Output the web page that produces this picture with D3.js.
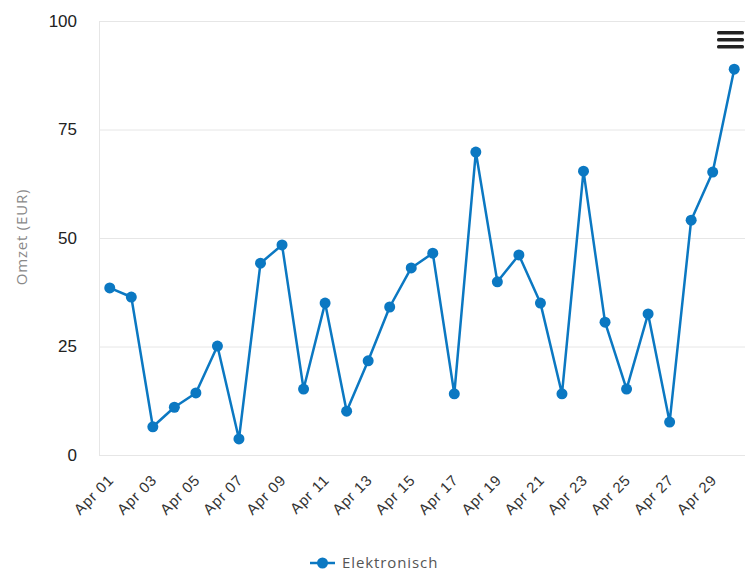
<!DOCTYPE html>
<html>
<head>
<meta charset="utf-8">
<script src="https://cdn.jsdelivr.net/npm/d3@7"></script>
<style>
  body { margin: 0; background: #fff; }
  svg { display: block; font-family: "Open Sans", "Noto Sans", sans-serif; }
</style>
</head>
<body>
<div id="chart"></div>
<script>
(function() {

    var width = 745,
        height = 573;

    // data
    var days = ["Apr 01","Apr 02","Apr 03","Apr 04","Apr 05","Apr 06","Apr 07","Apr 08","Apr 09","Apr 10",
                "Apr 11","Apr 12","Apr 13","Apr 14","Apr 15","Apr 16","Apr 17","Apr 18","Apr 19","Apr 20",
                "Apr 21","Apr 22","Apr 23","Apr 24","Apr 25","Apr 26","Apr 27","Apr 28","Apr 29","Apr 30"];
    var omzet = [38.5, 36.4, 6.5, 11, 14.3, 25.1, 3.7, 44.2, 48.4, 15.2,
                 35, 10.1, 21.7, 34.1, 43.1, 46.5, 14.1, 69.8, 39.9, 46.1,
                 35, 14.1, 65.4, 30.6, 15.2, 32.5, 7.6, 54.1, 65.2, 88.9];
    var yTicks = [0, 25, 50, 75, 100];
    var seriesName = "Elektronisch";

    var margin = {top: 21, right: 0, bottom: 118, left: 99};
    var blue = "#0b78c2";

    var svg = d3.select("#chart")
        .append("svg")
        .attr("width", width)
        .attr("height", height);

    var x = d3.scaleBand().domain(days).range([margin.left, width - margin.right]).padding(0);
    var y = d3.scaleLinear().domain([0, 100]).range([height - margin.bottom, margin.top]);

    // grid
    svg.append("g")
        .selectAll("line")
        .data(yTicks)
        .enter().append("line")
        .attr("x1", margin.left)
        .attr("x2", width - margin.right)
        .attr("y1", function(d) { return y(d) + 0.5; })
        .attr("y2", function(d) { return y(d) + 0.5; })
        .attr("stroke", "#e6e6e6")
        .attr("stroke-width", 1);

    // left axis line
    svg.append("line")
        .attr("x1", margin.left + 0.5).attr("x2", margin.left + 0.5)
        .attr("y1", y(100)).attr("y2", y(0))
        .attr("stroke", "#e6e6e6");

    // y axis labels
    var yAxis = d3.axisLeft(y).tickValues(yTicks).tickSize(0).tickPadding(22);
    var gy = svg.append("g")
        .attr("transform", "translate(" + margin.left + ",0)")
        .call(yAxis);
    gy.select(".domain").remove();
    gy.selectAll("text")
        .attr("fill", "#222")
        .style("font-size", "17px");

    svg.append("text")
        .attr("transform", "translate(27," + (y(50) - 1) + ") rotate(-90)")
        .attr("text-anchor", "middle")
        .attr("fill", "#888")
        .style("font-size", "15px")
        .style("letter-spacing", "0.8px")
        .text("Omzet (EUR)");

    // x axis labels
    var xAxis = d3.axisBottom(x)
        .tickValues(days.filter(function(d, i) { return i % 2 === 0; }))
        .tickSize(0)
        .tickPadding(0);
    var gx = svg.append("g")
        .attr("transform", "translate(0," + y(0) + ")")
        .call(xAxis);
    gx.select(".domain").remove();
    gx.selectAll("text")
        .attr("fill", "#333")
        .style("font-size", "15px")
        .style("letter-spacing", "0.8px")
        .attr("text-anchor", "end")
        .attr("dy", null)
        .attr("transform", "translate(5,26) rotate(-45)");

    // line
    var line = d3.line()
        .x(function(d, i) { return x(days[i]) + x.bandwidth() / 2; })
        .y(function(d) { return y(d); });

    svg.append("path")
        .datum(omzet)
        .attr("d", line)
        .attr("fill", "none")
        .attr("stroke", blue)
        .attr("stroke-width", 2.5)
        .attr("stroke-linejoin", "round");

    svg.append("g")
        .selectAll("circle")
        .data(omzet)
        .enter().append("circle")
        .attr("cx", function(d, i) { return x(days[i]) + x.bandwidth() / 2; })
        .attr("cy", function(d) { return y(d); })
        .attr("r", 5.5)
        .attr("fill", blue);

    // legend
    var lg = svg.append("g").attr("transform", "translate(310,563)");
    lg.append("line").attr("x1", 0).attr("x2", 25).attr("y1", 0).attr("y2", 0)
        .attr("stroke", blue).attr("stroke-width", 2.5);
    lg.append("circle").attr("cx", 12.5).attr("cy", 0).attr("r", 5.5).attr("fill", blue);
    lg.append("text").attr("x", 32).attr("y", 5)
        .attr("fill", "#555")
        .style("font-size", "15px")
        .style("letter-spacing", "0.9px")
        .text(seriesName);

    // menu icon
    var menu = svg.append("g").attr("transform", "translate(717,31)");
    menu.selectAll("rect")
        .data([0, 7, 14])
        .enter().append("rect")
        .attr("x", 0).attr("y", function(d) { return d; })
        .attr("width", 27).attr("height", 3.5)
        .attr("rx", 1.5)
        .attr("fill", "#222");

})();
</script>
</body>
</html>
